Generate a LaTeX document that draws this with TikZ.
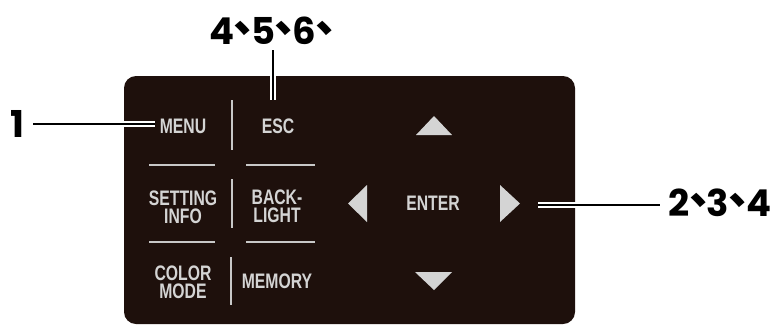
\documentclass[tikz,border=0pt]{standalone}
\usepackage{fontspec}
\setmainfont{Liberation Sans}
\newfontfamily\btnfont{Liberation Sans}[FakeStretch=0.75]
\newfontfamily\labfont{Poppins}
\newfontfamily\cjkfont{Noto Sans CJK TC}
\newcommand{\zcm}{\makebox[0.46em]{\cjkfont\bfseries\fontsize{44}{44}\selectfont 、}}
\definecolor{panel}{HTML}{1E100C}
\definecolor{keytext}{HTML}{D4D4D4}
\definecolor{sep}{HTML}{C8C8C8}
\tikzset{
  btn/.style={text=keytext, font=\btnfont\bfseries\fontsize{21}{18}\selectfont, align=center, inner sep=0pt},
  lab/.style={text=black, font=\labfont\bfseries\fontsize{37}{38}\selectfont, inner sep=0pt},
  sepline/.style={draw=sep, line width=1.1pt},
  callout/.style={draw=white, double=black, double distance=2pt, line width=1.7pt},
  arrowkey/.style={fill=keytext, draw=none}
}
\begin{document}
\begin{tikzpicture}[x=1pt,y=-1pt]
\useasboundingbox (0,0) rectangle (780,325);
% panel
\fill[panel, rounded corners=12pt] (124,76) rectangle (575,324);
% separators
\draw[sepline] (232,100) -- (232,150);
\draw[sepline] (232,179) -- (232,228);
\draw[sepline] (231,257) -- (231,305);
\draw[sepline] (149,165) -- (215,165);
\draw[sepline] (246,165) -- (315,165);
\draw[sepline] (149,242) -- (215,242);
\draw[sepline] (246,242) -- (315,242);
% keys
\node[btn] (menu) at (183,126) {MENU};
\node[btn] (esc) at (278,126) {ESC};
\node[btn] (setting) at (183,207) {SETTING\\INFO};
\node[btn] (back) at (277,206) {BACK-\\LIGHT};
\node[btn] (color) at (183,282) {COLOR\\MODE};
\node[btn] (memory) at (277,281) {MEMORY};
\node[btn] (enter) at (433,203) {ENTER};
% arrow keys
\fill[arrowkey] (416,135) -- (434,116) -- (452,135) -- cycle;
\fill[arrowkey] (415,272) -- (452,272) -- (434,290) -- cycle;
\fill[arrowkey] (367,185) -- (348,203.5) -- (367,222) -- cycle;
\fill[arrowkey] (500,185) -- (520,203.5) -- (500,222) -- cycle;
% labels
\node[lab] (l1) at (17,124) {1};
\node[lab] (l456) at (271,31) {4\zcm5\zcm6\zcm};
\node[lab] (l234) at (720,203) {2\zcm3\zcm4};
% callouts
\coordinate (c1) at (155,124);
\coordinate (c456a) at (273,50);
\coordinate (c456b) at (273,100);
\coordinate (c234a) at (538,205);
\coordinate (c234b) at (660,205);
\draw[callout] (33,124) -- (c1);
\draw[callout] (c456a) -- (c456b);
\draw[callout] (c234a) -- (c234b);
\end{tikzpicture}
\end{document}
